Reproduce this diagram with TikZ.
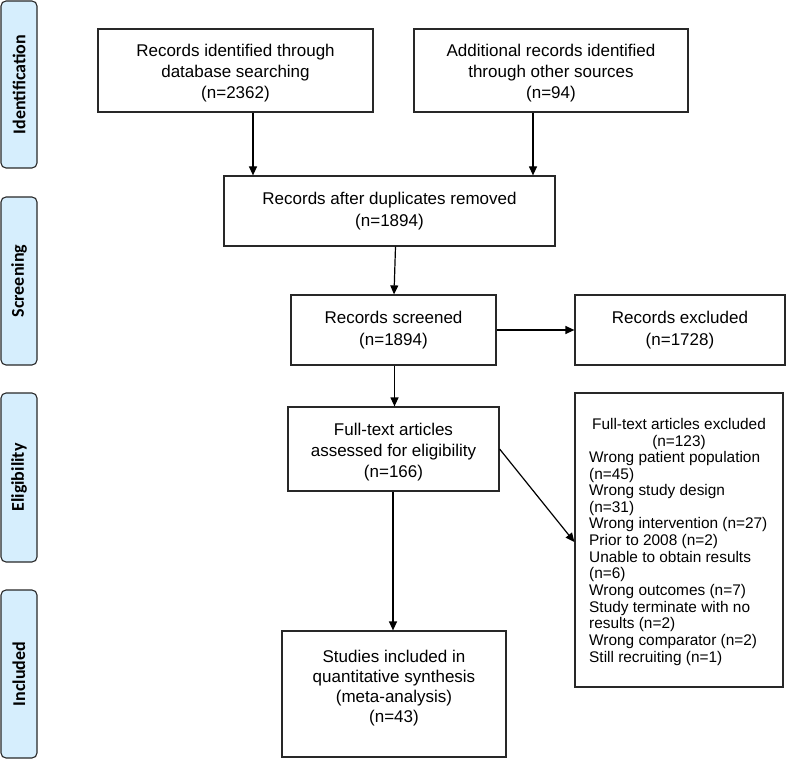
\documentclass[tikz,border=0pt]{standalone}
\usepackage{fontspec}
\setmainfont{Liberation Sans}
\newfontfamily\sidefont{Carlito}
\usetikzlibrary{arrows.meta}
\definecolor{sidefill}{RGB}{214,238,253}
\definecolor{edge}{RGB}{40,40,40}
\tikzset{
  box/.style={draw=edge, line width=1.2pt, fill=white, inner sep=0pt, align=center,
    font=\fontsize{17}{21.5}\selectfont},
  boxtxt/.style={inner sep=0pt, align=center, font=\fontsize{17}{21.3}\selectfont},
  sidebox/.style={draw=edge, line width=1.1pt, fill=sidefill, rounded corners=5pt,
    inner sep=0pt, minimum width=36pt, rotate=90,
    font=\sidefont\bfseries\fontsize{18}{20}\selectfont},
  arr/.style={draw=black, line width=1.2pt, -{Triangle[length=9pt,width=8pt]}},
  listtxt/.style={inner sep=0pt, font=\fontsize{15.4}{16.65}\selectfont}
}
\begin{document}
\begin{tikzpicture}[x=1pt,y=-1pt]
\useasboundingbox (0,0) rectangle (787,759);
% side labels
\node[sidebox, minimum width=167pt, minimum height=36pt] (sId) at (19,84.5) {Identification};
\node[sidebox, minimum width=168pt, minimum height=36pt] (sSc) at (19,281) {Screening};
\node[sidebox, minimum width=169pt, minimum height=36pt] (sEl) at (19,477.5) {Eligibility};
\node[sidebox, minimum width=168pt, minimum height=36pt] (sIn) at (19,674) {Included};
% boxes
\node[box, minimum width=275pt, minimum height=83pt] (b1) at (235.5,70.5) {};
\node[boxtxt] (t1) at (235.5,73)
  {Records identified through\\database searching\\(n=2362)};
\node[box, minimum width=274pt, minimum height=83pt] (b2) at (551,70.5) {};
\node[boxtxt] (t2) at (551,73)
  {Additional records identified\\through other sources\\(n=94)};
\node[box, minimum width=331pt, minimum height=70pt] (b3) at (389.5,211)
  {Records after duplicates removed\\(n=1894)};
\node[box, minimum width=205pt, minimum height=70pt] (b4) at (393.5,330)
  {Records screened\\(n=1894)};
\node[box, minimum width=210pt, minimum height=70pt] (b5) at (680,330)
  {Records excluded\\(n=1728)};
\node[box, minimum width=211pt, minimum height=84pt] (b6) at (393.5,449) {};
\node[boxtxt] (t6) at (393.5,452)
  {Full-text articles\\assessed for eligibility\\(n=166)};
\node[box, minimum width=208pt, minimum height=294pt] (b7) at (679,540) {};
\node[listtxt, align=center, anchor=north] (t7a) at (679,418)
  {Full-text articles excluded\\(n=123)};
\node[listtxt, align=left, anchor=north west] (t7b) at (589,451)
  {Wrong patient population\\(n=45)\\Wrong study design\\(n=31)\\Wrong intervention (n=27)\\Prior to 2008 (n=2)\\Unable to obtain results\\(n=6)\\Wrong outcomes (n=7)\\Study terminate with no\\results (n=2)\\Wrong comparator (n=2)\\Still recruiting (n=1)};
\node[box, minimum width=224pt, minimum height=126pt] (b8) at (394,694) {};
\node[inner sep=0pt, align=center, font=\fontsize{17}{20}\selectfont] (t8) at (394,688)
  {Studies included in\\quantitative synthesis\\(meta-analysis)\\(n=43)};
% arrows
\draw[arr] ([xshift=17.5pt]b1.south) -- ([xshift=17.5pt]b1.south |- b3.north);
\draw[arr] ([xshift=-18pt]b2.south) -- ([xshift=-18pt]b2.south |- b3.north);
\draw[arr] ([xshift=6pt]b3.south) -- ([xshift=0.5pt]b4.north);
\draw[arr] (b4.east) -- (b5.west);
\draw[arr] ([xshift=1pt]b4.south) -- ([xshift=1pt]b6.north);
\draw[arr] ([xshift=-0.5pt]b6.south) -- ([xshift=-0.5pt]b6.south |- b8.north);
\draw[arr] (b6.east) -- ([yshift=-2pt]b7.west);
\end{tikzpicture}
\end{document}
